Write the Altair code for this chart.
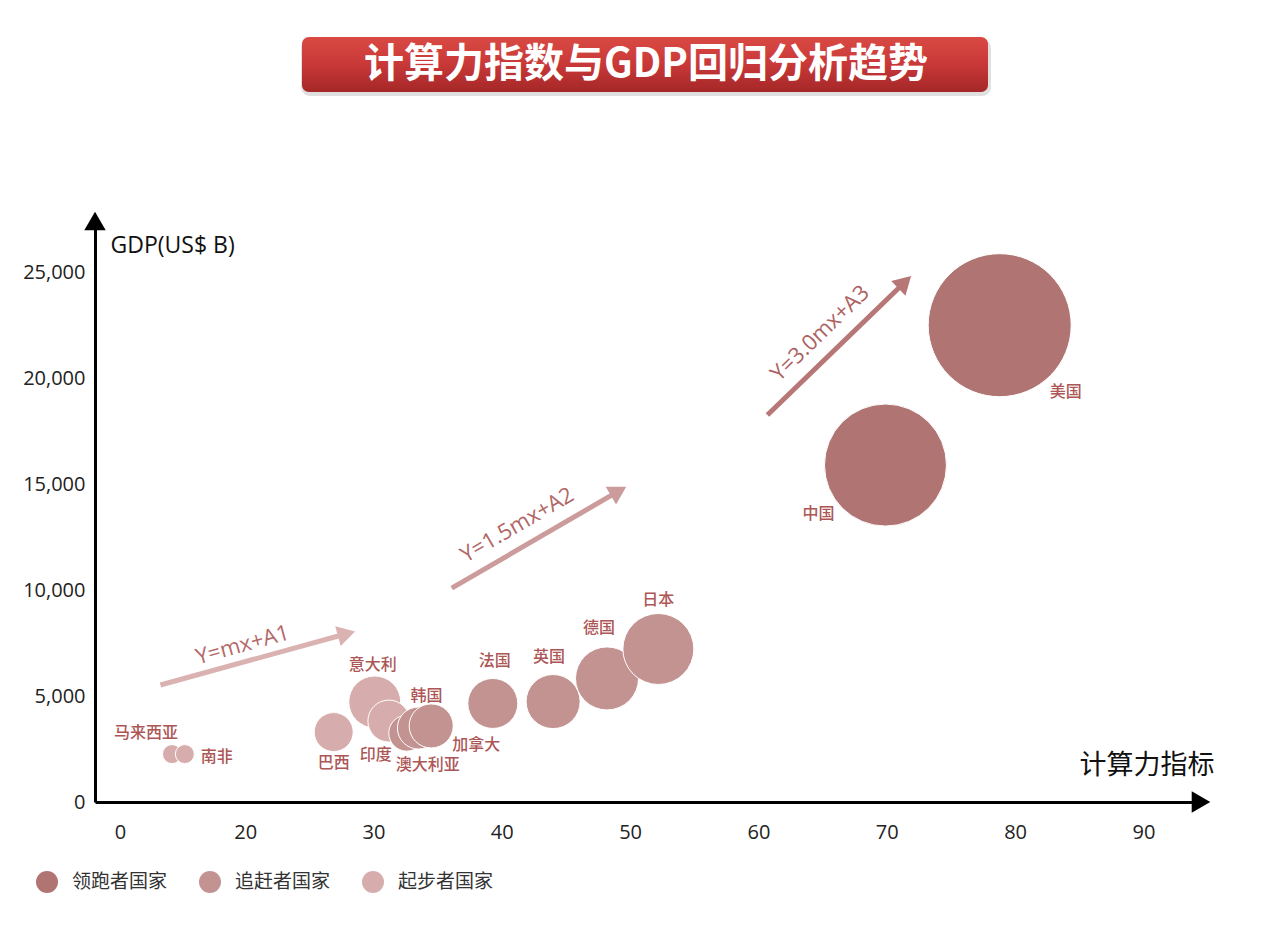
import altair as alt
import pandas as pd
import math

# ---------------- data ----------------
countries = ["马来西亚", "南非", "巴西", "意大利", "印度", "澳大利亚", "韩国", "加拿大",
             "法国", "英国", "德国", "日本", "中国", "美国"]
compute_index = [14.3, 15.3, 26.9, 30.1, 31.2, 32.6, 33.5, 34.5, 39.3, 44.0, 48.2, 52.2, 69.9, 78.8]
gdp = [2260, 2260, 3300, 4720, 3820, 3250, 3490, 3590, 4650, 4740, 5830, 7220, 15900, 22500]
group = ["起步者国家", "起步者国家", "起步者国家", "起步者国家", "起步者国家", "追赶者国家",
         "追赶者国家", "追赶者国家", "追赶者国家", "追赶者国家", "追赶者国家", "追赶者国家",
         "领跑者国家", "领跑者国家"]
bubble_weight = [3.6, 3.6, 15.2, 27.0, 17.6, 13.0, 17.6, 19.4, 25.0, 29.2, 39.7, 50.4, 148.8, 204.5]

groups = ["领跑者国家", "追赶者国家", "起步者国家"]
group_colors = ["#b07472", "#c39391", "#d6adac"]

x_ticks = [10.25, 20, 30, 40, 50, 60, 70, 80, 90]
y_ticks = [0, 5000, 10000, 15000, 20000, 25000]

trend_text = ["Y=mx+A1", "Y=1.5mx+A2", "Y=3.0mx+A3"]
trend_x1 = [13.4, 36.1, 60.7]
trend_y1 = [5520, 10090, 18260]
trend_x2 = [27.9, 49.1, 71.4]
trend_y2 = [7940, 14670, 24530]
trend_label_x = [19.8, 41.2, 64.8]
trend_label_y = [7410, 13070, 22120]

# ---------------- layout / style ----------------
W, H = 1110, 587
X_DOM = [8.3, 94.8]
Y_DOM = [0, 27700]
kx = W / (X_DOM[1] - X_DOM[0])
ky = H / (Y_DOM[1] - Y_DOM[0])

FONT = "Open Sans, Noto Sans CJK SC"
CJK = "Noto Sans CJK SC"
label_color = "#ad5656"
trend_colors = ["#dab2b2", "#cc9b9b", "#b87777"]
trend_text_colors = ["#b46a6a", "#b26666", "#ad6262"]

# label pixel offsets (dx right, dy down) relative to bubble centre
label_offsets = {
    "美国": (66, 67), "中国": (-67, 49), "日本": (0, -49), "德国": (-8, -50),
    "英国": (-4, -45), "法国": (2, -42), "意大利": (-2, -37), "印度": (-13, 34),
    "澳大利亚": (21, 32), "韩国": (8, -32), "加拿大": (45, 19), "巴西": (0, 31),
    "马来西亚": (-26, -21), "南非": (32, 3),
}

df = pd.DataFrame({"country": countries, "x": compute_index, "gdp": gdp,
                   "group": group, "w": bubble_weight})
df["lx"] = [x + label_offsets[c][0] / kx for c, x in zip(countries, compute_index)]
df["ly"] = [g - label_offsets[c][1] / ky for c, g in zip(countries, gdp)]

xscale = alt.Scale(domain=X_DOM, nice=False, zero=False)
yscale = alt.Scale(domain=Y_DOM, nice=False, zero=False)

x_axis = alt.Axis(values=x_ticks, labelExpr="datum.value < 15 ? '0' : format(datum.value, 'd')",
                  grid=False, ticks=False, tickSize=0, domainColor="#000", domainWidth=3,
                  labelFont=FONT, labelFontSize=20, labelColor="#222", labelPadding=30,
                  labelBaseline="middle", labelFlush=False, labelOverlap=False,
                  title="计算力指标", titleX=984, titleY=-37, titleAlign="left",
                  titleBaseline="middle", titleFont=CJK, titleFontSize=27,
                  titleFontWeight="normal", titleColor="#111")
y_axis = alt.Axis(values=y_ticks, labelExpr="format(datum.value, ',')", grid=False,
                  ticks=False, tickSize=0,
                  domainColor="#000", domainWidth=3, labelFont=FONT, labelFontSize=20,
                  labelColor="#222", labelPadding=10, labelFlush=False, labelOverlap=False,
                  title="GDP(US$ B)", titleX=15, titleY=30, titleAngle=0, titleAlign="left",
                  titleBaseline="middle", titleFont=FONT, titleFontSize=23,
                  titleFontWeight="normal", titleColor="#111")


def X(field):
    return alt.X(field, type="quantitative", scale=xscale, axis=x_axis)


def Y(field):
    return alt.Y(field, type="quantitative", scale=yscale, axis=y_axis)


one = pd.DataFrame({"a": [0]})

# ---------------- title banner ----------------
shadow = alt.Chart(one).mark_rect(color="#000", opacity=0.12, cornerRadius=9).encode(
    x=alt.value(206), x2=alt.value(896), y=alt.value(-176), y2=alt.value(-119))
grad = alt.LinearGradient(gradient="linear",
                          stops=[alt.GradientStop(color="#da4a43", offset=0),
                                 alt.GradientStop(color="#c83838", offset=0.5),
                                 alt.GradientStop(color="#a52727", offset=1)],
                          x1=0, x2=0, y1=0, y2=1)
banner = alt.Chart(one).mark_rect(color=grad, cornerRadius=7).encode(
    x=alt.value(207), x2=alt.value(893), y=alt.value(-178), y2=alt.value(-123))
banner_text = alt.Chart(one).mark_text(
    text="计算力指数与GDP回归分析趋势", font=CJK, fontSize=40, fontWeight="bold",
    color="white", align="center", baseline="middle").encode(
    x=alt.value(551), y=alt.value(-150))

# ---------------- bubbles ----------------
bubbles = alt.Chart(df).mark_circle(opacity=1, stroke="white", strokeWidth=1).encode(
    x=X("x"),
    y=Y("gdp"),
    size=alt.Size("w:Q", scale=alt.Scale(domain=[0, 204.5], range=[0, 20449]), legend=None),
    color=alt.Color("group:N", scale=alt.Scale(domain=groups, range=group_colors),
                    legend=alt.Legend(orient="none", legendX=-59, legendY=656,
                                      direction="horizontal", title=None,
                                      symbolType="circle", symbolSize=484,
                                      symbolStrokeWidth=0, symbolOpacity=1,
                                      labelFont=CJK, labelFontSize=19, labelColor="#333",
                                      labelOffset=14, columnPadding=31, padding=0)),
    order=alt.Order("x:Q"),
)

labels = alt.Chart(df).mark_text(font=CJK, fontSize=16, fontWeight=500, color=label_color,
                                 align="center", baseline="middle").encode(
    x=X("lx"), y=Y("ly"), text="country:N")

# ---------------- trend arrows ----------------
trend_layers = []
for i in range(3):
    dxp = (trend_x2[i] - trend_x1[i]) * kx
    dyp = (trend_y2[i] - trend_y1[i]) * ky
    ang = math.degrees(math.atan2(dyp, dxp))
    seg = pd.DataFrame({"x1": [trend_x1[i]], "y1": [trend_y1[i]],
                        "x2": [trend_x2[i]], "y2": [trend_y2[i]],
                        "lx": [trend_label_x[i]], "ly": [trend_label_y[i]],
                        "t": [trend_text[i]]})
    line = alt.Chart(seg).mark_rule(color=trend_colors[i], strokeWidth=5, strokeCap="butt").encode(
        x=X("x1"), y=Y("y1"), x2="x2:Q", y2="y2:Q")
    head = alt.Chart(seg).mark_point(shape="triangle-right", filled=True, size=420,
                                     color=trend_colors[i], opacity=1,
                                     angle=(360 - ang) % 360).encode(
        x=X("x2"), y=Y("y2"))
    txt = alt.Chart(seg).mark_text(font=FONT, fontSize=22, color=trend_text_colors[i],
                                   angle=(360 - ang) % 360, align="center",
                                   baseline="middle").encode(
        x=X("lx"), y=Y("ly"), text="t:N")
    trend_layers += [line, head, txt]

# ---------------- axis arrowheads ----------------
y_head = alt.Chart(one).mark_point(shape="triangle-up", filled=True, size=460,
                                   color="#000", opacity=1).encode(
    x=alt.value(0), y=alt.value(6))
x_head = alt.Chart(one).mark_point(shape="triangle-right", filled=True, size=460,
                                   color="#000", opacity=1).encode(
    x=alt.value(W - 4), y=alt.value(H))

chart = alt.layer(shadow, banner, banner_text, bubbles, labels, *trend_layers,
                  y_head, x_head).properties(
    width=W, height=H,
    padding={"left": 87, "top": 207, "right": 50, "bottom": 110},
    autosize=alt.AutoSizeParams(type="none"),
    background="white",
).configure_view(stroke=None)

chart.save("out.html", embed_options={"renderer": "svg", "actions": False})
